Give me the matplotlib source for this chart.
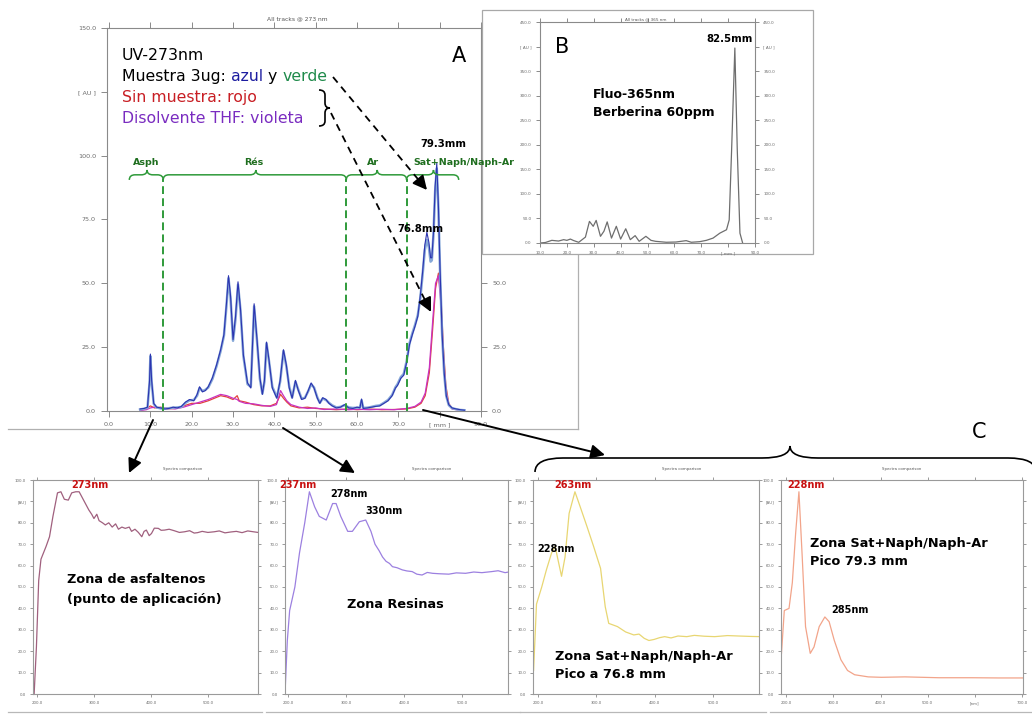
import matplotlib
matplotlib.use('Agg')
import matplotlib.pyplot as plt
from matplotlib.path import Path
from matplotlib.patches import PathPatch, Rectangle, FancyArrowPatch
from matplotlib.lines import Line2D
import math

# ---------------- data ----------------
# Panel A: TLC track at 273 nm (mm vs AU)
A_mm = [7.5, 8.5, 9.3, 9.8, 10.0, 10.3, 10.8, 11.5, 12.5, 13.5,
        14.5, 15.5, 16.5, 17.5, 18.5, 19.5, 20.5, 21.3, 21.9, 22.6,
        23.3, 24.0, 25.0, 26.0, 27.0, 27.8, 28.4, 28.9, 29.4, 30.0,
        30.6, 31.2, 31.8, 32.5, 33.5, 34.3, 35.1, 35.8, 36.5, 37.1,
        37.6, 38.1, 38.7, 39.5, 40.6, 41.4, 42.2, 42.9, 43.6, 44.3,
        45.1, 45.8, 46.6, 47.4, 48.2, 48.9, 49.6, 50.4, 51.0, 51.7,
        52.5, 53.2, 54.0, 55.0, 56.0, 57.0, 58.0, 59.0, 60.0, 60.7,
        61.1, 61.5, 62.5, 63.5, 64.5, 65.5, 66.5, 67.5, 68.5, 69.3,
        69.8, 70.6, 71.3, 72.0, 72.7, 73.4, 74.0, 74.7, 75.3, 75.9,
        76.4, 76.9, 77.4, 77.8, 78.1, 78.5, 78.9, 79.3, 79.7, 80.1,
        80.6, 81.1, 81.6, 82.2, 83.0, 84.0, 85.0, 86.0]
A_blue = [0.8, 1.0, 1.5, 12.0, 22.3, 12.0, 3.0, 1.5, 1.2, 0.8,
          1.0, 1.5, 1.2, 1.8, 3.5, 4.5, 4.0, 6.5, 9.5, 7.5,
          8.0, 9.5, 13.0, 18.0, 24.0, 30.0, 42.0, 53.0, 45.0, 28.0,
          37.0, 50.6, 40.0, 22.0, 11.0, 9.0, 42.0, 28.0, 13.0, 6.5,
          12.0, 27.0, 20.0, 9.0, 5.0, 12.0, 24.0, 18.0, 9.0, 5.0,
          12.0, 8.0, 4.5, 5.0, 8.0, 11.0, 9.0, 5.0, 3.0, 5.2,
          4.5, 3.0, 2.0, 1.2, 1.5, 2.5, 1.2, 1.0, 1.5, 1.2,
          4.7, 1.0, 1.2, 1.5, 1.8, 2.0, 3.0, 4.0, 6.0, 9.0,
          10.0, 12.8, 14.0, 19.0, 26.0, 30.0, 33.0, 37.0, 45.0, 55.0,
          65.0, 70.0, 66.0, 60.0, 60.0, 70.0, 88.0, 97.0, 80.0, 55.0,
          30.0, 15.0, 6.0, 2.5, 1.2, 0.8, 0.5, 0.3]
A_green = [0.6, 0.9, 1.3, 11.0, 21.5, 11.5, 2.8, 1.4, 1.0, 0.9,
           1.1, 1.3, 1.4, 1.6, 3.2, 4.2, 4.3, 6.0, 9.0, 7.8,
           8.3, 9.2, 12.5, 17.5, 23.5, 29.5, 41.0, 52.0, 44.0, 27.5,
           36.0, 49.5, 39.5, 21.5, 10.5, 9.5, 41.0, 27.5, 12.5, 6.8,
           11.5, 26.5, 19.5, 9.5, 5.3, 11.5, 23.5, 17.5, 9.5, 5.3,
           11.5, 8.3, 4.8, 5.2, 7.8, 10.5, 9.2, 5.3, 3.2, 4.9,
           4.3, 3.2, 2.2, 1.4, 1.6, 2.3, 1.4, 1.2, 1.3, 1.4,
           4.2, 1.2, 1.3, 1.6, 2.0, 2.2, 3.2, 4.3, 6.3, 9.3,
           10.5, 13.3, 14.5, 19.5, 26.5, 30.5, 33.5, 37.5, 44.0, 54.0,
           63.0, 67.0, 64.0, 58.5, 59.0, 69.0, 86.0, 95.0, 79.0, 54.0,
           29.5, 14.5, 5.8, 2.3, 1.1, 0.7, 0.4, 0.3]
A_bg_mm = [7.5, 9, 10, 11, 12.5, 14, 16, 18, 20, 22,
           24, 25.5, 27, 28.5, 30, 31, 31.5, 33, 35, 37,
           39, 40.5, 41.5, 42.2, 43, 44, 46, 48, 50, 52,
           55, 58, 60, 63, 66, 69, 72, 74, 75.5, 76.5,
           77.5, 78.3, 79.0, 79.7, 80.3, 80.9, 81.5, 82.2, 83, 84.5, 86]
A_red = [0.3, 0.8, 2.0, 1.2, 1.5, 0.8, 1.0, 2.0, 3.0, 3.0,
         4.0, 5.0, 6.0, 5.5, 4.5, 6.0, 4.0, 3.5, 2.5, 2.0,
         2.0, 3.0, 6.5, 5.0, 3.5, 2.0, 1.2, 1.5, 1.0, 0.8,
         0.5, 0.8, 0.5, 0.8, 0.5, 0.6, 0.8, 1.5, 3.0, 6.0,
         15, 32, 48, 54, 45, 25, 10, 3, 1, 0.5, 0.3]
A_violet = [0.2, 0.5, 1.2, 1.5, 1.0, 1.2, 0.8, 1.5, 2.5, 3.5,
            4.5, 5.5, 6.5, 6.0, 5.0, 4.5, 3.8, 3.0, 2.8, 2.2,
            1.8, 2.5, 8.0, 6.0, 4.0, 2.5, 1.5, 1.0, 1.2, 0.6,
            0.8, 0.5, 0.7, 0.5, 0.7, 0.5, 1.0, 1.8, 3.5, 7.0,
            17, 35, 50, 53, 42, 22, 8, 2.5, 0.8, 0.4, 0.2]
A_xticks = [0, 10, 20, 30, 40, 50, 60, 70, 80, 90]
A_xlabels = ['0.0', '10.0', '20.0', '30.0', '40.0', '50.0', '60.0', '70.0', '[ mm ]', '90.0']
A_yticks = [0, 25, 50, 75, 100, 125, 150]
A_ylabels = ['0.0', '25.0', '50.0', '75.0', '100.0', '[ AU ]', '150.0']
A_zone_bounds = [13.1, 57.4, 72.0]
A_zone_spans = [(4.9, 13.1, 9.2), (13.1, 57.4, 35.5), (57.4, 72.0, 64.9), (72.0, 84.6, 78.5)]
A_zone_labels = ['Asph', 'Rés', 'Ar', 'Sat+Naph/Naph-Ar']
A_zone_label_x = [9.0, 35.0, 63.9, 85.8]

# Panel B: fluorescence 365 nm
B_mm = [10, 12, 14.4, 16.9, 18.8, 20, 21.3, 22.5, 24.4, 26.9,
        28.4, 29.8, 30.9, 32.5, 33.8, 35, 36.6, 38.4, 40, 41.9,
        43.6, 45.4, 46.9, 49.4, 51.3, 53, 57, 60.6, 64.4, 66.3,
        69.4, 71.9, 74.4, 76.9, 79.4, 80.4, 81.3, 82.5, 83.4, 84.4, 85.4]
B_au = [0, 1, 5.4, 4, 6.8, 5.4, 8, 5, 1.4, 12,
        44, 34, 46, 13.6, 24, 43, 10, 34, 8, 29,
        6.8, 15, 3.4, 13.6, 5.4, 3.4, 1.5, 2, 4.8, 1.5,
        2.7, 5.4, 10, 20, 27, 47, 190, 397, 190, 20, 0]
B_xticks = [10, 20, 30, 40, 50, 60, 70, 80, 90]
B_xlabels = ['10.0', '20.0', '30.0', '40.0', '50.0', '60.0', '70.0', '[ mm ]', '90.0']
B_yticks = [0, 50, 100, 150, 200, 250, 300, 350, 400, 450]
B_ylabels = ['0.0', '50.0', '100.0', '150.0', '200.0', '250.0', '300.0', '350.0', '[ AU ]', '450.0']

# Panel C: UV spectra (nm vs AU)
P1_nm = [195, 199, 203, 207, 216, 222, 228, 236, 242, 248,
         255, 261, 268, 274, 283, 291, 296, 300, 305, 309,
         315, 320, 326, 332, 338, 343, 349, 355, 362, 366,
         372, 378, 384, 388, 392, 397, 401, 406, 413, 418,
         424, 432, 441, 450, 459, 468, 476, 482, 490, 500,
         511, 520, 530, 540, 550, 560, 570, 580, 588]
P1_au = [0, 22, 53, 63, 69, 73.5, 83, 94, 94.5, 91,
         90.6, 94, 94.5, 94.5, 90, 86, 84, 82, 84, 81,
         80, 79, 80, 78, 79.5, 77, 78, 77.4, 78, 76,
         77, 75.5, 73.5, 76, 76.6, 74, 75, 77.5, 77.4, 76.5,
         76.6, 77, 76.3, 75.5, 75.8, 76.3, 75.2, 75.4, 76, 75.5,
         75.8, 76.2, 75.3, 75.7, 76, 75.4, 76.2, 75.8, 75.5]
P2_nm = [195, 199, 203, 212, 220, 229, 237, 246, 254, 266,
         277, 283, 291, 303, 311, 323, 334, 343, 350, 357,
         363, 369, 375, 380, 388, 397, 405, 414, 422, 431,
         440, 449, 460, 477, 490, 506, 520, 534, 551, 562,
         574, 580]
P2_au = [0, 25, 39, 50, 66, 80, 94.5, 87.5, 83, 81.3,
         89, 89, 83, 76, 76, 80.5, 81.3, 76, 70, 67,
         64, 62, 61, 59.5, 59, 58, 57.5, 57.2, 56, 55.6,
         56.8, 56.4, 56.2, 56, 56.6, 56.4, 57, 56.7, 57.2, 57.6,
         56.7, 57]
P3_nm = [192, 197, 206, 214, 223, 229, 234, 240, 246, 253,
         263, 272, 284, 295, 307, 315, 321, 336, 350, 364,
         373, 382, 390, 399, 408, 417, 428, 440, 455, 468,
         485, 503, 525, 544, 565, 583]
P3_au = [11, 42, 50, 58, 66, 69, 62.6, 55, 64, 84.4,
         94.5, 87.5, 78, 69, 58.7, 40.8, 33, 31.5, 29, 27.6,
         28, 26, 25, 25.5, 26.3, 26.8, 26.2, 27.1, 26.8, 27.4,
         27, 26.8, 27.3, 27.1, 26.9, 26.8]
P4_nm = [190, 196, 206, 213, 220, 227, 234, 241, 251, 259,
         270, 282, 291, 302, 316, 330, 345, 374, 402, 452,
         524, 595, 650, 702]
P4_au = [19, 39, 40, 52, 75, 94.5, 64, 31.5, 19, 22,
         31.5, 36, 33.8, 25, 16, 11, 9, 8, 7.8, 8,
         7.6, 7.6, 7.5, 7.5]
S_yticks = [0, 10, 20, 30, 40, 50, 60, 70, 80, 90, 100]
S_ylabels = ['0.0', '10.0', '20.0', '30.0', '40.0', '50.0', '60.0', '70.0', '80.0', '[AU]', '100.0']
S_xticks = [200, 300, 400, 500]
S_xlabels = ['200.0', '300.0', '400.0', '500.0']
S4_xticks = [200, 300, 400, 500, 600, 700]
S4_xlabels = ['200.0', '300.0', '400.0', '500.0', '[nm]', '700.0']

# ---------------- figure ----------------
W, H = 1032, 714
plt.rcParams['font.family'] = ['DejaVu Sans']
fig = plt.figure(figsize=(W / 100, H / 100), dpi=100)
fig.patch.set_facecolor('white')


def fx(x):
    return x / W


def fy(y):
    return 1 - y / H


def add_ax(l, t, r, b, z=1):
    return fig.add_axes([fx(l), fy(b), (r - l) / W, (b - t) / H], zorder=z)


def style(ax, xlim, ylim, xt, xl, yt, yl, fs, tl, pad, lright=True, col='#8a8a8a'):
    ax.set_xlim(*xlim)
    ax.set_ylim(*ylim)
    ax.set_xticks(xt)
    ax.set_xticklabels(xl)
    ax.set_yticks(yt)
    ax.set_yticklabels(yl)
    for s in ax.spines.values():
        s.set_color(col)
        s.set_linewidth(0.8)
    ax.tick_params(axis='both', direction='out', length=tl, width=0.7, color=col,
                   labelsize=fs, labelcolor='#6a6a6a', top=True, right=True,
                   labelright=lright, pad=pad)


def ftext(x, y, s, **kw):
    return fig.text(fx(x), fy(y), s, **kw)


def fline(xs, ys, **kw):
    fig.add_artist(Line2D([fx(v) for v in xs], [fy(v) for v in ys],
                          transform=fig.transFigure, **kw))


def hbrace_path(x0, x1, xt, y, h, tip, r):
    verts = [(x0, y - h), (x0, y), (x0 + r, y), (xt - r, y), (xt, y), (xt, y + tip),
             (xt, y), (xt + r, y), (x1 - r, y), (x1, y), (x1, y - h)]
    codes = [Path.MOVETO, Path.CURVE3, Path.CURVE3, Path.LINETO, Path.CURVE3, Path.CURVE3,
             Path.CURVE3, Path.CURVE3, Path.LINETO, Path.CURVE3, Path.CURVE3]
    return Path(verts, codes)


# frames of the pasted screenshots
fline([8, 578], [429, 429], color='#b0b0b0', lw=0.9, zorder=0.5)
fline([578, 578], [254, 429], color='#b0b0b0', lw=0.9, zorder=0.5)
for a, b in [(8, 262), (266, 520), (520, 766), (770, 1032)]:
    fline([a, b], [712, 712], color='#b8b8b8', lw=0.9, zorder=0.5)

# ---------------- Panel A ----------------
axA = add_ax(107, 28, 481, 411, z=1)
axA.plot(A_bg_mm, A_red, color='#e2453a', lw=0.9, zorder=2)
axA.plot(A_bg_mm, A_violet, color='#c832c0', lw=0.9, zorder=2)
axA.plot(A_mm, A_green, color='#86a8d8', lw=1.8, zorder=3)
axA.plot(A_mm, A_blue, color='#2c34b0', lw=0.8, zorder=4)
style(axA, (-0.5, 90), (0, 150), A_xticks, A_xlabels, A_yticks, A_ylabels, 4.6, 4, 4)
axA.vlines(A_zone_bounds, 0, 91, colors='#2f9a3a', linestyles=(0, (4, 2.2)), lw=1.4, zorder=5)
for (x0, x1, xt) in A_zone_spans:
    axA.add_patch(PathPatch(hbrace_path(x0, x1, xt, 92.5, 2.0, 1.9, 1.4),
                            facecolor='none', edgecolor='#2f9a3a', lw=1.1, zorder=5))
for lab, xl in zip(A_zone_labels, A_zone_label_x):
    fig.text(xl, 96.5, lab, transform=axA.transData, ha='center', va='baseline',
             fontsize=6.8, fontweight='bold', color='#1f6e1f', zorder=20)
axA.text(80.8, 103.5, '79.3mm', ha='center', va='baseline', fontsize=7.3,
         fontweight='bold', color='black', zorder=6)
axA.text(75.3, 70.0, '76.8mm', ha='center', va='baseline', fontsize=7.3,
         fontweight='bold', color='black', zorder=6)
ftext(297, 20, 'All tracks @ 273 nm', ha='center', va='baseline', fontsize=4.3, color='#555555')

# legend text lines
LFS = 11.3
renderer = fig.canvas.get_renderer()


def text_width(s, **kw):
    t = fig.text(0, 0, s, **kw)
    w = t.get_window_extent(renderer).width
    t.remove()
    return w


def multicolor(x, y, parts, **kw):
    sp = text_width('a a', **kw) - text_width('aa', **kw)
    cur = x
    for s, c in parts:
        lead = len(s) - len(s.lstrip(' '))
        trail = len(s) - len(s.rstrip(' '))
        core = s.strip(' ')
        cur += lead * sp
        ftext(cur, y, core, color=c, va='baseline', ha='left', zorder=20, **kw)
        cur += text_width(core, **kw) + trail * sp


ftext(122, 60, 'UV-273nm', fontsize=LFS, color='black', va='baseline', zorder=20)
multicolor(122, 81, [('Muestra 3ug: ', 'black'), ('azul', '#1c1ca0'), (' y ', 'black'),
                     ('verde', '#1e8a4a')], fontsize=LFS)
ftext(122, 102, 'Sin muestra: rojo', fontsize=LFS, color='#c81e24', va='baseline', zorder=20)
ftext(122, 123, 'Disolvente THF: violeta', fontsize=LFS, color='#7a2cc0', va='baseline', zorder=20)
ftext(452, 62, 'A', fontsize=15, color='black', va='baseline', zorder=20)

# vertical "}" brace
bx0, bxm, bxt = 319, 325, 330
by0, byt, by1, br = 90, 108, 126, 5
bverts = [(bx0, by0), (bxm, by0), (bxm, by0 + br), (bxm, byt - br), (bxm, byt), (bxt, byt),
          (bxm, byt), (bxm, byt + br), (bxm, by1 - br), (bxm, by1), (bx0, by1)]
bcodes = [Path.MOVETO, Path.CURVE3, Path.CURVE3, Path.LINETO, Path.CURVE3, Path.CURVE3,
          Path.CURVE3, Path.CURVE3, Path.LINETO, Path.CURVE3, Path.CURVE3]
fig.add_artist(PathPatch(Path([(fx(a), fy(b)) for a, b in bverts], bcodes),
                         transform=fig.transFigure, facecolor='none', edgecolor='black',
                         lw=1.2, zorder=20))

# ---------------- Panel B ----------------
fig.add_artist(Rectangle((fx(482), fy(254)), (813 - 482) / W, (254 - 10) / H,
                         transform=fig.transFigure, facecolor='white', edgecolor='#a8a8a8',
                         lw=0.9, zorder=1.5))
axB = add_ax(540, 22, 755, 243, z=2)
axB.plot(B_mm, B_au, color='#6e6e6e', lw=0.9)
style(axB, (10, 90), (0, 450), B_xticks, B_xlabels, B_yticks, B_ylabels, 3.0, 3, 3)
ftext(646, 20, 'All tracks @ 365 nm', ha='center', va='baseline', fontsize=3.0, color='#555555', zorder=3)
ftext(555, 53, 'B', fontsize=15, color='black', va='baseline', zorder=20)
ftext(730, 42, '82.5mm', fontsize=7.3, fontweight='bold', ha='center', va='baseline', zorder=20)
ftext(593, 98, 'Fluo-365nm', fontsize=9, fontweight='bold', va='baseline', zorder=20)
ftext(593, 116, 'Berberina 60ppm', fontsize=9, fontweight='bold', va='baseline', zorder=20)

# ---------------- Panel C (spectra) ----------------
spec = [
    (33, 258, (193, 588), P1_nm, P1_au, '#a0607e', S_xticks, S_xlabels, 183),
    (285, 508, (195, 579), P2_nm, P2_au, '#9c80e0', S_xticks, S_xlabels, 432),
    (533, 759, (191, 579), P3_nm, P3_au, '#e8d672', S_xticks, S_xlabels, 682),
    (781, 1023, (189, 702), P4_nm, P4_au, '#f2a48a', S4_xticks, S4_xlabels, 902),
]
for (l, r, xlim, xs, ys, col, xt, xl, tx) in spec:
    ax = add_ax(l, 480, r, 694, z=2)
    ax.plot(xs, ys, color=col, lw=0.9)
    style(ax, xlim, (0, 100), xt, xl, S_yticks, S_ylabels, 2.8, 2.5, 2.5, lright=False, col='#9a9a9a')
    ftext(tx, 470, 'Spectra comparison', ha='center', va='baseline', fontsize=2.8, color='#555555')

RED = '#c81010'
ftext(71, 488, '273nm', fontsize=7, fontweight='bold', color=RED, va='baseline', zorder=20)
ftext(67, 583, 'Zona de asfaltenos', fontsize=9.3, fontweight='bold', va='baseline', zorder=20)
ftext(67, 603, '(punto de aplicación)', fontsize=9.3, fontweight='bold', va='baseline', zorder=20)
ftext(279, 488, '237nm', fontsize=7, fontweight='bold', color=RED, va='baseline', zorder=20)
ftext(330, 497, '278nm', fontsize=7, fontweight='bold', va='baseline', zorder=20)
ftext(365, 514, '330nm', fontsize=7, fontweight='bold', va='baseline', zorder=20)
ftext(347, 608, 'Zona Resinas', fontsize=9.3, fontweight='bold', va='baseline', zorder=20)
ftext(554, 488, '263nm', fontsize=7, fontweight='bold', color=RED, va='baseline', zorder=20)
ftext(537, 552, '228nm', fontsize=7, fontweight='bold', va='baseline', zorder=20)
ftext(555, 660, 'Zona Sat+Naph/Naph-Ar', fontsize=9.3, fontweight='bold', va='baseline', zorder=20)
ftext(555, 678, 'Pico a 76.8 mm', fontsize=9.3, fontweight='bold', va='baseline', zorder=20)
ftext(787, 488, '228nm', fontsize=7, fontweight='bold', color=RED, va='baseline', zorder=20)
ftext(810, 547, 'Zona Sat+Naph/Naph-Ar', fontsize=9.3, fontweight='bold', va='baseline', zorder=20)
ftext(810, 565, 'Pico 79.3 mm', fontsize=9.3, fontweight='bold', va='baseline', zorder=20)
ftext(831, 613, '285nm', fontsize=7, fontweight='bold', va='baseline', zorder=20)
ftext(972, 438, 'C', fontsize=15, color='black', va='baseline', zorder=20)

# big brace over C spectra
fig.add_artist(PathPatch(hbrace_path(fx(535), fx(1036), fx(790), fy(458), 14 / H, 12 / H, 28 / W),
                         transform=fig.transFigure, facecolor='none', edgecolor='black',
                         lw=1.2, zorder=20))


# ---------------- arrows ----------------
def solid_arrow(p0, p1):
    fig.add_artist(FancyArrowPatch((fx(p0[0]), fy(p0[1])), (fx(p1[0]), fy(p1[1])),
                                   transform=fig.transFigure, arrowstyle='-|>,head_length=0.7,head_width=0.35',
                                   mutation_scale=12, color='black', lw=1.4,
                                   shrinkA=0, shrinkB=0, zorder=25))


def dashed_arrow(p0, p1, head=10):
    L = math.hypot(p1[0] - p0[0], p1[1] - p0[1])
    ux, uy = (p1[0] - p0[0]) / L, (p1[1] - p0[1]) / L
    xe, ye = p1[0] - ux * head, p1[1] - uy * head
    fline([p0[0], xe], [p0[1], ye], color='black', lw=1.3, ls=(0, (4, 3)), zorder=25)
    solid_arrow((xe - ux * 1, ye - uy * 1), p1)


dashed_arrow((333, 77), (427, 190))
dashed_arrow((331, 113), (431, 312))
solid_arrow((153, 420), (129, 473))
solid_arrow((283, 428), (355, 473))
solid_arrow((423, 410), (605, 455))

fig.savefig('out.png', dpi=100, facecolor='white')
